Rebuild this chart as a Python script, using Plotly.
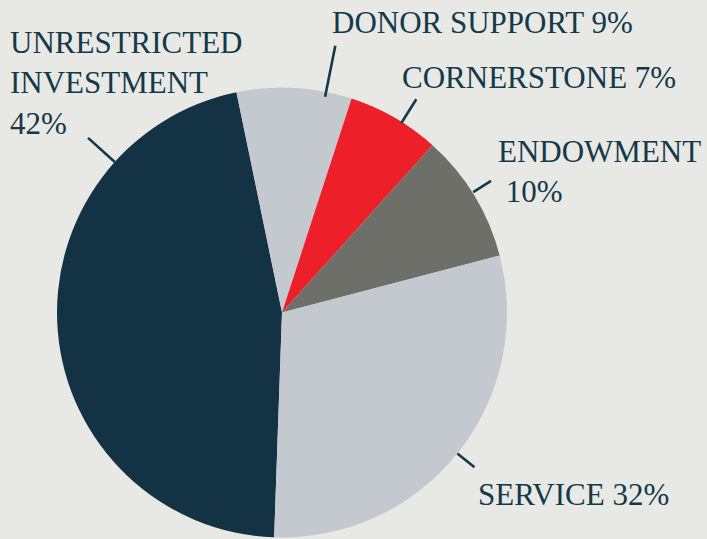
import math
import plotly.graph_objects as go

# ---- data ----
categories = ["UNRESTRICTED INVESTMENT", "DONOR SUPPORT", "CORNERSTONE", "ENDOWMENT", "SERVICE"]
slice_values = [46.2, 8.25, 6.66, 9.26, 29.63]        # drawn slice sizes
pct_labels = ["42%", "9%", "7%", "10%", "32%"]         # printed label text

# ---- style ----
W, H = 707, 539
BG = "#e8e9e4"
TXT = "#14394a"
colors = ["#133344", "#c4c8cf", "#ed1f28", "#6e6f69", "#c4c8cf"]
FONT = "Liberation Serif"
FS = 31
CX, CY, R = 282, 312.5, 225  # pie centre / radius in px
ROTATION = 182

# leader line angle (deg clockwise from top) and inner/outer radii in px
leader = [(312, 225, 261), (11.3, 220, 272), (32.2, 224, 252), (57.8, 226, 247), (128.8, 225, 247)]
# label texts & anchors (px; x left, y = cap middle)
label_text = [
    "UNRESTRICTED<br>INVESTMENT<br>" + pct_labels[0],
    categories[1] + " " + pct_labels[1],
    categories[2] + " " + pct_labels[2],
    "ENDOWMENT<br>\u00a0" + pct_labels[3],
    categories[4] + " " + pct_labels[4],
]
label_pos = [(8, 83), (330, 22), (400, 78), (496, 171), (476, 494.5)]

fig = go.Figure(go.Pie(
    labels=categories,
    values=slice_values,
    sort=False,
    direction="clockwise",
    rotation=ROTATION,
    marker=dict(colors=colors, line=dict(width=0)),
    textinfo="none",
    hoverinfo="skip",
    showlegend=False,
    domain=dict(x=[(CX - R) / W, (CX + R) / W], y=[(H - CY - R) / H, (H - CY + R) / H]),
))

def px2paper(x, y):
    return x / W, 1 - y / H

shapes = []
for ang, r0, r1 in leader:
    a = math.radians(ang)
    x0, y0 = px2paper(CX + r0 * math.sin(a), CY - r0 * math.cos(a))
    x1, y1 = px2paper(CX + r1 * math.sin(a), CY - r1 * math.cos(a))
    shapes.append(dict(type="line", xref="paper", yref="paper", x0=x0, y0=y0, x1=x1, y1=y1,
                       line=dict(color=TXT, width=2.6)))

annotations = []
for t, (x, y) in zip(label_text, label_pos):
    px, py = px2paper(x, y)
    annotations.append(dict(text=t, x=px, y=py, xref="paper", yref="paper", xanchor="left",
                            yanchor="middle", align="left", showarrow=False,
                            font=dict(family=FONT, size=FS, color=TXT)))

fig.update_layout(
    width=W, height=H,
    margin=dict(l=0, r=0, t=0, b=0),
    paper_bgcolor=BG, plot_bgcolor=BG,
    shapes=shapes, annotations=annotations,
)
fig.write_html("out.html", config={"displayModeBar": False},
               post_script="document.body.style.margin='0';document.body.style.background='%s';" % BG)
